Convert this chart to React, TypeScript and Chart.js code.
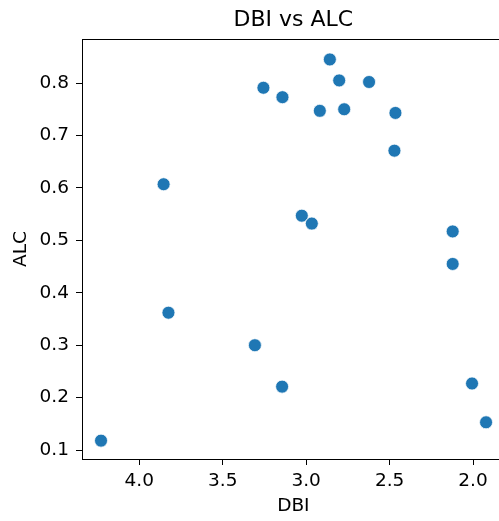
import React, { useEffect, useRef } from "react";
import { Chart, registerables } from "chart.js";

Chart.register(...registerables);

const dbi = [2.858, 2.802, 2.623, 3.256, 3.142, 2.918, 2.772, 2.465, 2.471, 3.854, 3.026, 2.966, 2.122, 2.122, 3.825, 3.307, 3.144, 2.006, 1.922, 4.229];
const alc = [0.845, 0.805, 0.802, 0.791, 0.773, 0.747, 0.750, 0.743, 0.671, 0.607, 0.547, 0.532, 0.517, 0.455, 0.362, 0.300, 0.221, 0.227, 0.153, 0.118];
const xTicks = [2.0, 2.5, 3.0, 3.5, 4.0];
const yTicks = [0.1, 0.2, 0.3, 0.4, 0.5, 0.6, 0.7, 0.8];

const chartTitle = "DBI vs ALC";
const xLabel = "DBI";
const yLabel = "ALC";

const FONT = "'DejaVu Sans', sans-serif";
const W = 512;
const H = 521;

const framePlugin = {
  id: "frame",
  afterDraw(chart: any) {
    const { ctx, chartArea } = chart;
    ctx.save();
    ctx.strokeStyle = "#000";
    ctx.lineWidth = 1;
    ctx.beginPath();
    ctx.moveTo(chartArea.left, Math.round(chartArea.top) + 0.5);
    ctx.lineTo(chartArea.right, Math.round(chartArea.top) + 0.5);
    ctx.moveTo(Math.round(chartArea.right) - 0.5, chartArea.top);
    ctx.lineTo(Math.round(chartArea.right) - 0.5, chartArea.bottom);
    ctx.stroke();
    ctx.fillStyle = "#000";
    ctx.font = `22px ${FONT}`;
    ctx.textAlign = "center";
    ctx.textBaseline = "middle";
    ctx.fillText(chartTitle, (chartArea.left + chartArea.right) / 2, 20.3);
    ctx.restore();
  },
};

export default function App() {
  const ref = useRef<HTMLCanvasElement | null>(null);
  useEffect(() => {
    if (!ref.current) return;
    const chart = new Chart(ref.current, {
      type: "scatter",
      data: {
        datasets: [
          {
            data: dbi.map((x, i) => ({ x, y: alc[i] })),
            backgroundColor: "#1f77b4",
            borderColor: "#ffffff",
            borderWidth: 0.75,
            pointRadius: 6.5,
            pointHoverRadius: 6.5,
          },
        ],
      },
      options: {
        animation: false,
        responsive: false,
        devicePixelRatio: 1,
        layout: { padding: { left: 0, top: 39, right: 7, bottom: 0 } },
        plugins: { legend: { display: false }, tooltip: { enabled: false }, title: { display: false } },
        scales: {
          x: {
            type: "linear",
            reverse: true,
            min: 1.81,
            max: 4.343,
            afterBuildTicks: (s: any) => {
              s.ticks = xTicks.map((v) => ({ value: v }));
            },
            afterFit: (s: any) => {
              s.height = 62;
            },
            ticks: {
              autoSkip: false,
              maxRotation: 0,
              padding: 5,
              color: "#000",
              font: { family: FONT, size: 18.5 },
              callback: (v: any) => Number(v).toFixed(1),
            },
            grid: { display: true, drawOnChartArea: false, drawTicks: true, tickLength: 6, tickColor: "#000", tickWidth: 1 },
            border: { display: true, color: "#000", width: 1 },
            title: { display: true, text: xLabel, color: "#000", font: { family: FONT, size: 18.5 }, padding: { top: 0, bottom: 4 } },
          },
          y: {
            type: "linear",
            min: 0.083,
            max: 0.884,
            afterBuildTicks: (s: any) => {
              s.ticks = yTicks.map((v) => ({ value: v }));
            },
            afterFit: (s: any) => {
              s.width = 82;
            },
            ticks: {
              autoSkip: false,
              padding: 7,
              color: "#000",
              font: { family: FONT, size: 18.5 },
              callback: (v: any) => Number(v).toFixed(1),
            },
            grid: { display: true, drawOnChartArea: false, drawTicks: true, tickLength: 6, tickColor: "#000", tickWidth: 1 },
            border: { display: true, color: "#000", width: 1 },
            title: { display: true, text: yLabel, color: "#000", font: { family: FONT, size: 18.5 }, padding: { top: 10, bottom: 0 } },
          },
        },
      },
      plugins: [framePlugin],
    } as any);
    return () => chart.destroy();
  }, []);
  return (
    <div style={{ position: "absolute", left: 0, top: 0, width: 499, height: 521, overflow: "hidden", background: "#fff" }}>
      <canvas ref={ref} width={W} height={H} style={{ width: W, height: H, display: "block" }} />
    </div>
  );
}
